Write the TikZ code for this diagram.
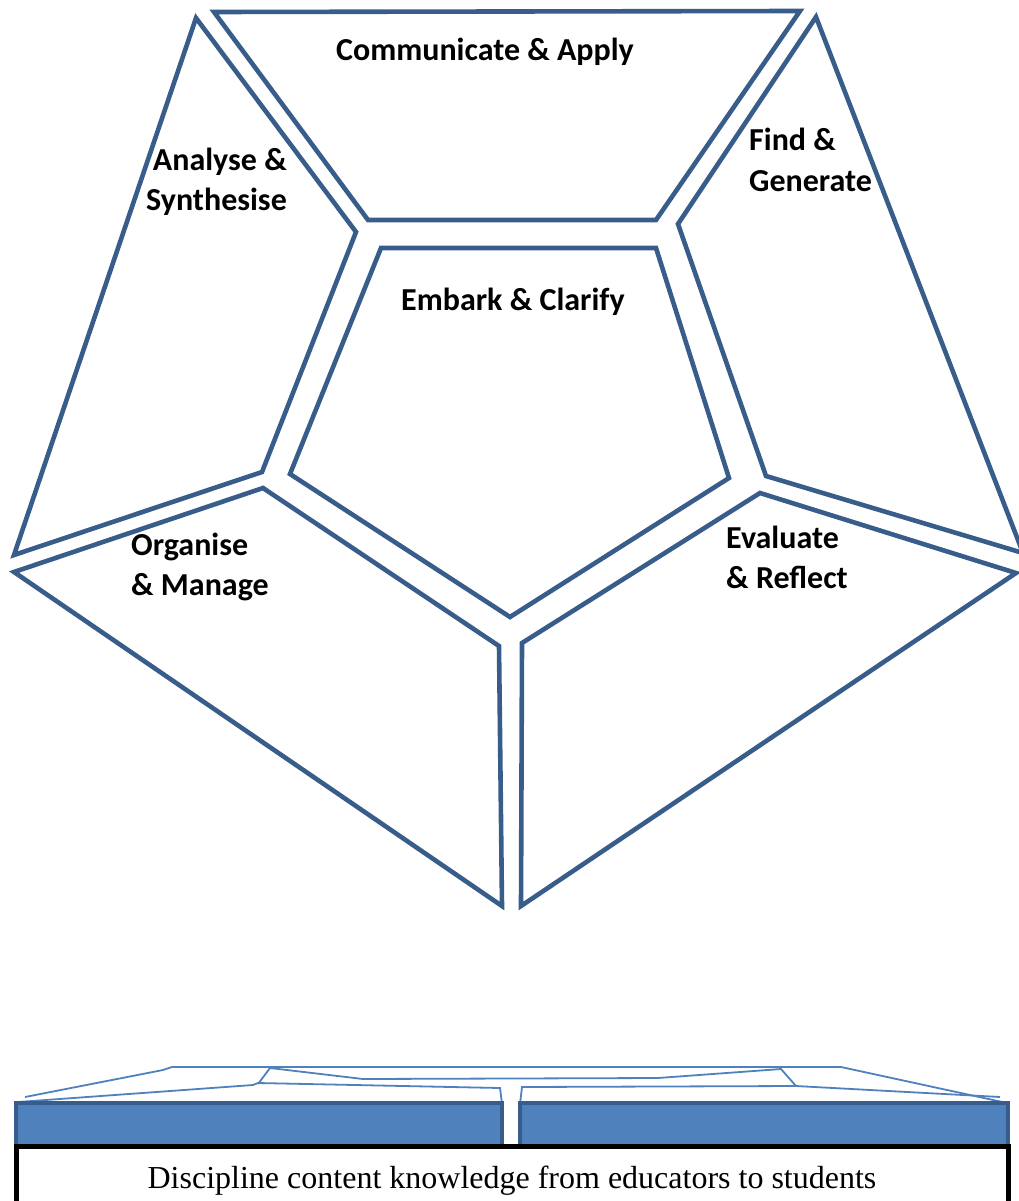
\documentclass[tikz,border=0pt]{standalone}
\usepackage{fontspec}
\setmainfont{Liberation Serif}
\newfontfamily\carlito{Carlito}
\definecolor{edgeblue}{HTML}{385D8A}
\definecolor{barblue}{HTML}{4F81BD}
\begin{document}
\begin{tikzpicture}[x=1pt,y=-1pt,
  piece/.style={draw=edgeblue, line width=4.6pt, line join=miter},
  lbl/.style={font=\carlito\bfseries\fontsize{32}{40}\selectfont, inner sep=0pt},
  thinline/.style={draw=barblue, line width=1.8pt},
  bar/.style={fill=barblue, draw=edgeblue, line width=4pt}]
\useasboundingbox (0,0) rectangle (1019,1201);

% pentagon pieces
\draw[piece] (214,12) -- (800,11) -- (656,220) -- (368,220) -- cycle;
\draw[piece] (196,18) -- (356,232) -- (262,472) -- (14,555) -- cycle;
\draw[piece] (816,17) -- (1023,553) -- (766,476) -- (678,224) -- cycle;
\draw[piece] (381,248) -- (656,248) -- (729,478) -- (510,617) -- (290,474) -- cycle;
\draw[piece] (263,488) -- (499,646) -- (502,906) -- (14,572) -- cycle;
\draw[piece] (760,493) -- (1016,573) -- (521,906) -- (522,643) -- cycle;

% labels (anchor base = baseline of last line)
\node[lbl, anchor=base] (ca) at (485,61) {Communicate \& Apply};
\node[lbl, align=right, anchor=base east] (as) at (287,211) {Analyse \&\\Synthesise};
\node[lbl, align=left, anchor=base west] (fg) at (749,191) {Find \&\\Generate};
\node[lbl, anchor=base west] (ec) at (401,310) {Embark \& Clarify};
\node[lbl, align=left, anchor=base west] (om) at (131,595) {Organise\\\& Manage};
\node[lbl, align=left, anchor=base west] (er) at (726,588) {Evaluate\\\& Reflect};

% flattened pentagon (thin lines)
\draw[thinline] (25,1097) -- (163,1070) -- (172,1067) -- (841,1067) -- (1007,1103);
\draw[thinline] (18,1102) -- (253,1085) -- (258,1083) -- (500,1088) -- (502,1104);
\draw[thinline] (258,1084) -- (270,1068) -- (363,1079) -- (658,1078) -- (781,1069) -- (796,1086) -- (1000,1097);
\draw[thinline] (520,1104) -- (522,1087) -- (796,1086);

% bars
\draw[bar] (16,1103) rectangle (502,1150);
\draw[bar] (520,1103) rectangle (1008,1150);

% base box
\draw[black, fill=white, line width=5pt] (16,1146) rectangle (1008,1240);
\node[font=\fontsize{32}{38}\selectfont, anchor=base, inner sep=0pt] (dk) at (512,1188) {Discipline content knowledge from educators to students};
\end{tikzpicture}
\end{document}
